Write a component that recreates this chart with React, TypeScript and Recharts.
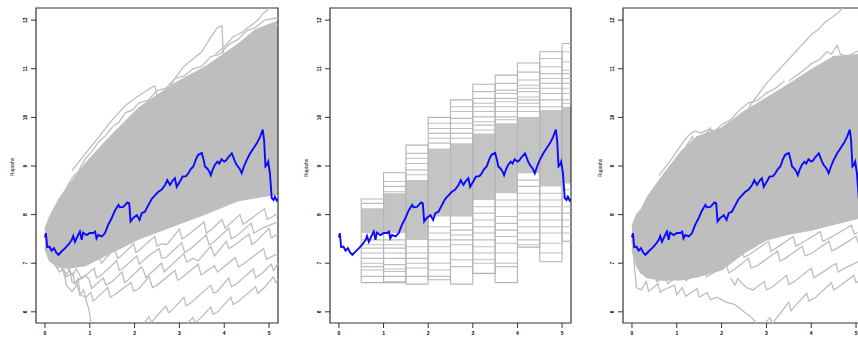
import React from 'react';
import { ComposedChart, Line, Area, XAxis, YAxis, ReferenceArea } from 'recharts';

// ---------- axes ----------
const xTicks = [0, 1, 2, 3, 4, 5];
const xTickLabels = ['0', '1', '2', '3', '4', '5'];
const yTicks = [6, 7, 8, 9, 10, 11, 12];
const yTickLabels = ['6', '7', '8', '9', '10', '11', '12'];
const xDomain: [number, number] = [-0.2, 5.2];
const yDomain: [number, number] = [5.77, 12.25];
const yAxisTitle = 'Rupiahs';

// ---------- observed series (blue) ----------
const obsTime = [0, 0.02, 0.05, 0.1, 0.15, 0.2, 0.25, 0.3, 0.37, 0.45, 0.52, 0.6, 0.63, 0.67, 0.74, 0.78, 0.82, 0.85, 0.93, 1.0, 1.08, 1.12, 1.15, 1.19, 1.27, 1.34, 1.41, 1.49, 1.56, 1.64, 1.67, 1.75, 1.84, 1.88, 1.91, 1.97, 2.05, 2.11, 2.16, 2.23, 2.31, 2.38, 2.46, 2.53, 2.6, 2.68, 2.73, 2.79, 2.85, 2.9, 2.94, 3.01, 3.07, 3.15, 3.2, 3.25, 3.31, 3.37, 3.42, 3.5, 3.55, 3.57, 3.62, 3.67, 3.7, 3.74, 3.79, 3.85, 3.89, 3.94, 4.0, 4.04, 4.09, 4.17, 4.2, 4.24, 4.28, 4.34, 4.39, 4.44, 4.5, 4.58, 4.65, 4.73, 4.8, 4.86, 4.89, 4.92, 4.95, 4.98, 5.02, 5.06, 5.1, 5.13, 5.17, 5.2];
const obsRate = [7.53, 7.62, 7.33, 7.34, 7.26, 7.31, 7.22, 7.17, 7.24, 7.31, 7.38, 7.48, 7.56, 7.44, 7.58, 7.65, 7.48, 7.63, 7.58, 7.62, 7.62, 7.65, 7.51, 7.58, 7.55, 7.62, 7.79, 7.93, 8.08, 8.2, 8.15, 8.16, 8.25, 8.23, 7.86, 7.93, 7.99, 7.89, 8.03, 8.06, 8.2, 8.32, 8.4, 8.47, 8.51, 8.61, 8.71, 8.61, 8.7, 8.75, 8.57, 8.68, 8.78, 8.79, 8.85, 8.93, 8.99, 9.14, 9.23, 9.27, 9.09, 8.99, 8.95, 8.88, 8.81, 8.92, 9.02, 9.09, 9.05, 9.14, 9.09, 9.11, 9.18, 9.26, 9.19, 9.09, 9.02, 8.95, 8.85, 8.99, 9.12, 9.26, 9.36, 9.47, 9.6, 9.75, 9.53, 8.99, 9.02, 9.09, 8.85, 8.34, 8.3, 8.37, 8.29, 8.32];

// ---------- panel 1: simulated paths ----------
const fan1BandX = [0, 0.1, 0.25, 0.5, 0.9, 1.4, 2.1, 2.9, 3.6, 4.3, 4.7, 5.2];
const fan1BandLow = [7.3, 7.05, 6.95, 6.9, 6.95, 7.18, 7.5, 7.78, 8.02, 8.28, 8.35, 8.42];
const fan1BandHigh = [7.7, 7.95, 8.2, 8.56, 9.05, 9.55, 10.2, 10.7, 11.05, 11.5, 11.8, 11.98];

const fan1PathA = [[0, 7.35], [0.12, 7.1], [0.25, 6.98], [0.32, 7.1], [0.38, 6.85], [0.5, 6.78], [0.55, 6.9], [0.6, 6.62], [0.7, 6.55], [0.74, 6.7], [0.78, 6.35], [0.86, 6.45], [0.93, 6.2], [0.98, 6.05], [1.04, 5.7]];
const fan1PathB = [[0, 7.3], [0.12, 7.08], [0.28, 6.9], [0.4, 6.95], [0.47, 6.72], [0.62, 6.8], [0.66, 6.6], [0.9, 6.75], [0.98, 6.68], [1.04, 6.48], [1.3, 6.7], [1.36, 6.55], [1.5, 6.62], [1.72, 6.82], [1.78, 6.6], [1.85, 6.65], [2.15, 6.92], [2.2, 6.85], [2.25, 6.7], [2.6, 7.0], [2.66, 6.82], [2.75, 6.9], [3.1, 7.2], [3.16, 7.02], [3.3, 7.1], [3.42, 7.05], [3.7, 7.35], [3.78, 7.15], [4.05, 7.45], [4.1, 7.3], [4.2, 7.35], [4.55, 7.6], [4.62, 7.38], [4.75, 7.48], [5.0, 7.72], [5.05, 7.52], [5.2, 7.6]];
const fan1PathC = [[0, 7.4], [0.18, 7.18], [0.3, 7.3], [0.36, 7.05], [0.52, 7.12], [0.58, 6.98], [0.88, 7.18], [0.93, 6.98], [1.0, 7.02], [1.2, 7.15], [1.26, 7.0], [1.55, 7.3], [1.62, 7.1], [1.7, 7.15], [1.98, 7.4], [2.03, 7.22], [2.12, 7.28], [2.45, 7.55], [2.5, 7.35], [2.62, 7.4], [2.72, 7.38], [3.0, 7.7], [3.06, 7.5], [3.15, 7.55], [3.55, 7.85], [3.6, 7.62], [3.7, 7.68], [3.95, 7.9], [4.02, 7.72], [4.35, 8.0], [4.42, 7.8], [4.5, 7.85], [4.9, 8.12], [4.96, 7.9], [5.2, 8.02]];
const fan1PathD = [[0.2, 7.0], [0.32, 6.82], [0.4, 6.88], [0.48, 6.55], [0.6, 6.42], [0.72, 6.55], [0.78, 6.35], [0.92, 6.3], [1.02, 6.4], [1.08, 6.22], [1.4, 6.5], [1.46, 6.3], [1.55, 6.35], [1.92, 6.6], [1.98, 6.42], [2.1, 6.48], [2.32, 6.72], [2.4, 6.5], [2.5, 6.55], [2.9, 6.85], [2.96, 6.65], [3.05, 6.7], [3.42, 6.98], [3.48, 6.76], [3.58, 6.82], [3.78, 6.95], [3.85, 6.82], [4.25, 7.12], [4.32, 6.92], [4.42, 6.98], [4.88, 7.3], [4.94, 7.08], [5.2, 7.2]];
const fan1PathE = [[2.15, 5.7], [2.32, 5.9], [2.38, 5.78], [2.5, 5.92], [2.7, 6.12], [2.76, 5.98], [2.82, 6.02], [3.1, 6.3], [3.15, 6.12], [3.28, 6.2], [3.7, 6.55], [3.76, 6.38], [3.85, 6.42], [4.1, 6.7], [4.16, 6.52], [4.28, 6.58], [4.65, 6.88], [4.7, 6.7], [4.85, 6.8], [5.05, 6.98], [5.1, 6.85], [5.2, 7.0]];
const fan1PathF = [[3.1, 5.7], [3.3, 5.88], [3.35, 5.78], [3.45, 5.85], [3.7, 6.1], [3.75, 5.95], [3.85, 6.0], [4.15, 6.3], [4.2, 6.15], [4.32, 6.22], [4.7, 6.52], [4.75, 6.38], [4.9, 6.5], [5.1, 6.72], [5.15, 6.6], [5.2, 6.68]];
const fan1PathG = [[0.6, 8.9], [0.9, 9.25], [1.2, 9.6], [1.5, 9.95], [1.8, 10.25], [2.1, 10.45], [2.35, 10.6], [2.45, 10.65], [2.5, 10.45], [2.7, 10.5], [2.9, 10.8], [3.1, 11.05], [3.3, 11.2], [3.5, 11.35], [3.7, 11.65], [3.85, 11.85], [3.95, 11.88], [3.98, 11.3], [4.2, 11.4], [4.5, 11.55], [4.8, 11.7], [5.2, 11.9]];
const fan1PathH = [[3.8, 11.3], [4.0, 11.45], [4.2, 11.66], [4.4, 11.75], [4.58, 11.88], [4.75, 12.0], [4.87, 12.14], [5.02, 12.25], [5.1, 12.4]];
const fan1PathI = [[0, 7.7], [0.15, 8.0], [0.3, 8.3], [0.45, 8.5], [0.6, 8.75], [0.75, 8.9], [0.9, 9.15], [1.05, 9.3], [1.2, 9.5], [1.35, 9.62], [1.5, 9.8], [1.65, 9.9], [1.8, 10.1], [1.95, 10.15], [2.1, 10.3], [2.3, 10.35], [2.5, 10.55], [2.7, 10.6], [2.9, 10.8], [3.1, 10.85], [3.3, 11.0], [3.5, 11.05], [3.7, 11.25], [3.9, 11.3], [4.1, 11.5], [4.3, 11.6], [4.5, 11.78], [4.7, 11.85], [4.9, 12.0], [5.2, 12.05]];
const fan1PathJ = [[0.5, 6.9], [0.62, 6.75], [0.7, 6.88], [0.82, 6.68], [1.1, 6.9], [1.15, 6.7], [1.25, 6.75], [1.6, 7.05], [1.66, 6.85], [1.75, 6.9], [2.05, 7.15], [2.1, 6.98], [2.35, 7.18], [2.55, 7.3], [2.6, 7.1], [2.7, 7.12], [3.05, 7.42], [3.12, 7.22], [3.25, 7.3], [3.6, 7.58], [3.66, 7.38], [3.75, 7.42], [4.1, 7.72], [4.16, 7.5], [4.3, 7.58], [4.6, 7.82], [4.66, 7.62], [4.85, 7.72], [5.2, 7.85]];
const fan1PathK = [[1.6, 9.55], [1.75, 9.8], [1.8, 9.6], [2.0, 9.9], [2.2, 10.15], [2.25, 9.95], [2.45, 10.2], [2.6, 10.4], [2.65, 10.2], [2.85, 10.45], [3.0, 10.6], [3.05, 10.4], [3.25, 10.65], [3.4, 10.85], [3.45, 10.65], [3.65, 10.9], [3.8, 11.05]];

// ---------- panel 2: interval boxes ----------
const colStart = [0.5, 1.0, 1.5, 2.0, 2.5, 3.0, 3.5, 4.0, 4.5, 5.0];
const colEnd = [1.0, 1.5, 2.0, 2.5, 3.0, 3.5, 4.0, 4.5, 5.0, 5.5];
const colTop = [8.32, 8.86, 9.43, 10.0, 10.36, 10.68, 10.87, 11.12, 11.35, 11.52];
const colBottom = [6.6, 6.6, 6.57, 6.66, 6.57, 6.79, 6.6, 7.33, 7.03, 7.45];
const colDenseHigh = [8.13, 8.44, 8.71, 9.36, 9.47, 9.67, 9.88, 10.01, 10.15, 10.22];
const colDenseLow = [7.62, 7.62, 7.48, 7.96, 7.96, 8.3, 8.44, 8.85, 8.58, 8.64];
const colLevels = [
  [8.23, 7.48, 7.38, 7.31, 7.21, 7.1, 7.0, 6.93, 6.86, 6.73],
  [8.68, 8.58, 8.47, 7.48, 7.38, 7.31, 7.21, 7.1, 6.97, 6.88, 6.83, 6.73, 6.62],
  [9.26, 9.16, 9.05, 8.92, 8.82, 7.34, 7.21, 7.1, 7.0, 6.9, 6.73],
  [9.88, 9.77, 9.67, 9.57, 9.47, 7.75, 7.62, 7.48, 7.34, 7.21, 7.0, 6.86, 6.73],
  [10.22, 10.12, 9.98, 9.88, 9.77, 9.67, 9.57, 7.82, 7.68, 7.58, 7.48, 7.38, 7.21, 7.07, 6.93],
  [10.53, 10.39, 10.29, 10.22, 10.12, 10.01, 9.91, 9.84, 9.74, 8.16, 8.03, 7.89, 7.75, 7.62, 7.48, 7.34, 7.21, 7.07, 7.0],
  [10.7, 10.56, 10.49, 10.39, 10.32, 10.22, 10.12, 10.01, 9.95, 8.3, 8.16, 7.96, 7.82, 7.68, 7.55, 7.41, 7.21, 7.0, 6.93],
  [10.93, 10.77, 10.66, 10.6, 10.53, 10.42, 10.36, 10.29, 10.22, 10.12, 8.71, 8.58, 8.44, 8.3, 8.16, 8.03, 7.89, 7.75, 7.62, 7.48, 7.38],
  [11.21, 11.04, 10.9, 10.8, 10.7, 10.6, 10.49, 10.36, 10.22, 8.44, 8.3, 8.16, 8.03, 7.89, 7.75, 7.62, 7.41, 7.21],
  [11.35, 11.14, 10.97, 10.9, 10.8, 10.7, 10.6, 10.49, 10.36, 10.29, 8.51, 8.37, 8.16, 8.03, 7.89, 7.75, 7.62],
];

// ---------- panel 3: simulated paths ----------
const fan3BandX = [0, 0.1, 0.2, 0.35, 0.7, 1.1, 1.45, 2.0, 2.5, 3.0, 3.5, 4.0, 4.5, 5.2];
const fan3BandLow = [7.3, 6.95, 6.8, 6.7, 6.65, 6.66, 6.72, 6.86, 7.21, 7.48, 7.6, 7.68, 7.8, 7.96];
const fan3BandHigh = [7.75, 8.0, 8.1, 8.37, 8.82, 9.3, 9.6, 9.78, 10.12, 10.4, 10.68, 10.98, 11.25, 11.3];

const fan3PathA = [[2.6, 10.2], [2.8, 10.45], [3.0, 10.7], [3.2, 10.9], [3.35, 11.05], [3.5, 11.2], [3.7, 11.4], [3.85, 11.55], [4.0, 11.7], [4.15, 11.8], [4.3, 11.95], [4.45, 12.05], [4.6, 12.15], [4.75, 12.3]];
const fan3PathB = [[3.5, 10.75], [3.8, 10.95], [4.0, 11.1], [4.2, 11.2], [4.35, 11.35], [4.45, 11.3], [4.58, 11.48], [4.65, 11.3], [4.8, 11.25], [5.0, 11.35], [5.2, 11.4]];
const fan3PathC = [[0.6, 8.8], [0.85, 9.1], [1.0, 9.3], [1.15, 9.5], [1.25, 9.62], [1.4, 9.72], [1.55, 9.68], [1.7, 9.75], [1.85, 9.72], [2.0, 9.85], [2.2, 9.95], [2.4, 10.15], [2.6, 10.3], [2.8, 10.35], [3.0, 10.5], [3.2, 10.6], [3.4, 10.75]];
const fan3PathD = [[0, 7.5], [0.05, 7.0], [0.1, 6.5], [0.2, 6.45], [0.32, 6.62], [0.37, 6.42], [0.58, 6.58], [0.63, 6.4], [0.7, 6.45], [0.95, 6.55], [1.0, 6.35], [1.12, 6.5], [1.2, 6.32], [1.45, 6.48], [1.5, 6.3], [1.68, 6.4], [1.75, 6.25], [1.9, 6.3], [2.1, 6.2], [2.3, 6.15], [2.5, 6.0], [2.65, 5.9], [2.8, 5.75], [2.9, 5.6]];
const fan3PathE = [[2.9, 5.7], [3.08, 5.88], [3.13, 5.76], [3.25, 5.9], [3.5, 6.2], [3.55, 6.02], [3.62, 6.1], [3.9, 6.38], [3.95, 6.22], [4.1, 6.3], [4.45, 6.6], [4.5, 6.45], [4.62, 6.52], [4.95, 6.75], [5.0, 6.6], [5.2, 6.72]];
const fan3PathF = [[0.3, 6.7], [0.5, 6.82], [0.55, 6.62], [0.72, 6.7], [0.8, 6.58], [1.15, 6.82], [1.2, 6.64], [1.3, 6.7], [1.6, 6.92], [1.66, 6.72], [1.78, 6.78], [2.1, 7.0], [2.16, 6.8], [2.3, 6.88], [2.6, 7.1], [2.66, 6.9], [2.8, 6.95], [3.25, 7.25], [3.3, 7.05], [3.42, 7.1], [3.8, 7.35], [3.86, 7.15], [4.0, 7.2], [4.4, 7.45], [4.46, 7.25], [4.6, 7.32], [5.0, 7.55], [5.06, 7.38], [5.2, 7.48]];
const fan3PathG = [[1.0, 6.9], [1.3, 7.05], [1.35, 6.88], [1.5, 6.95], [1.9, 7.22], [1.96, 7.02], [2.1, 7.08], [2.45, 7.32], [2.5, 7.12], [2.62, 7.18], [3.05, 7.45], [3.1, 7.25], [3.2, 7.3], [3.6, 7.55], [3.66, 7.35], [3.8, 7.42], [4.2, 7.65], [4.26, 7.45], [4.42, 7.52], [4.9, 7.78], [4.96, 7.6], [5.2, 7.7]];
const fan3PathH = [[2.2, 6.7], [2.3, 6.55], [2.36, 6.68], [2.55, 6.5], [2.7, 6.45], [2.95, 6.62], [3.0, 6.45], [3.12, 6.5], [3.45, 6.75], [3.5, 6.56], [3.62, 6.62], [4.0, 6.9], [4.06, 6.7], [4.2, 6.78], [4.55, 7.0], [4.6, 6.82], [4.75, 6.9], [5.2, 7.1]];
const fan3PathI = [[1.2, 9.4], [1.35, 9.6], [1.4, 9.45], [1.6, 9.6], [1.75, 9.78], [1.8, 9.6], [2.0, 9.72], [2.2, 9.9], [2.25, 9.72], [2.45, 9.9], [2.6, 10.1], [2.65, 9.92], [2.85, 10.1], [3.0, 10.3]];

// ---------- helpers ----------
const GRAY = '#bebebe';
const BLUE = '#0a0aff';
const FONT = 'Liberation Sans, Arial, Helvetica, sans-serif';

const rows = (pts: number[][]) => pts.map(([x, y]) => ({ x, y }));
const observed = obsTime.map((x, i) => ({ x, y: obsRate[i] }));
const band = (xs: number[], lo: number[], hi: number[]) => xs.map((x, i) => ({ x, range: [lo[i], hi[i]] }));
const fan1Band = band(fan1BandX, fan1BandLow, fan1BandHigh);
const fan3Band = band(fan3BandX, fan3BandLow, fan3BandHigh);
const fan1Paths = [fan1PathA, fan1PathB, fan1PathC, fan1PathD, fan1PathE, fan1PathF, fan1PathG, fan1PathH, fan1PathI, fan1PathJ, fan1PathK];
const fan3Paths = [fan3PathA, fan3PathB, fan3PathC, fan3PathD, fan3PathE, fan3PathF, fan3PathG, fan3PathH, fan3PathI];

const XTick = (props: any) => {
  const { x, y, payload } = props;
  const i = xTicks.indexOf(payload.value);
  return (
    <text x={x} y={y + 5} textAnchor="middle" fontSize={5} fontWeight={700} fill="#000" fontFamily={FONT}>
      {xTickLabels[i]}
    </text>
  );
};

const YTick = (props: any) => {
  const { x, y, payload } = props;
  const i = yTicks.indexOf(payload.value);
  return (
    <text x={x} y={y} transform={`rotate(-90 ${x} ${y})`} textAnchor="middle" fontSize={5} fontWeight={700} fill="#000" fontFamily={FONT}>
      {yTickLabels[i]}
    </text>
  );
};

const axes = () => [
  <XAxis
    key="x"
    xAxisId={0}
    type="number"
    dataKey="x"
    domain={xDomain}
    allowDataOverflow
    ticks={xTicks}
    interval={0}
    height={17}
    tickSize={5}
    tickMargin={2}
    axisLine={false}
    tickLine={{ stroke: '#333', strokeWidth: 1 }}
    tick={<XTick />}
  />,
  <YAxis
    key="y"
    yAxisId={0}
    type="number"
    domain={yDomain}
    allowDataOverflow
    ticks={yTicks}
    interval={0}
    width={28}
    tickSize={5}
    tickMargin={4}
    axisLine={false}
    tickLine={{ stroke: '#333', strokeWidth: 1 }}
    tick={<YTick />}
  />,
];

const frame = () => (
  <ReferenceArea
    key="frame"
    x1={xDomain[0]}
    x2={xDomain[1]}
    y1={yDomain[0]}
    y2={yDomain[1]}
    fill="none"
    stroke="#333"
    strokeWidth={1.2}
    ifOverflow="visible"
  />
);

const blueLine = () => (
  <Line key="obs" data={observed} dataKey="y" type="linear" stroke={BLUE} strokeWidth={1.9} dot={false} isAnimationActive={false} />
);

const pathLines = (paths: number[][][], prefix: string) =>
  paths.map((p, i) => (
    <Line key={prefix + i} data={rows(p)} dataKey="y" type="linear" stroke={GRAY} strokeWidth={1.3} dot={false} isAnimationActive={false} />
  ));

const columnElements = () => {
  const out: any[] = [];
  colStart.forEach((x0, i) => {
    const x1 = colEnd[i];
    out.push(
      <ReferenceArea key={'d' + i} x1={x0} x2={x1} y1={colDenseLow[i]} y2={colDenseHigh[i]} fill="#c4c4c4" fillOpacity={1} stroke="none" ifOverflow="hidden" />
    );
    const segs: any[] = [];
    colLevels[i].forEach((v) => {
      segs.push({ x: x0, y: v }, { x: x1, y: v }, { x: x1, y: null });
    });
    out.push(
      <Line key={'l' + i} data={segs} dataKey="y" type="linear" stroke={GRAY} strokeWidth={1.1} dot={false} connectNulls={false} isAnimationActive={false} />
    );
    const box = [
      { x: x0, y: colBottom[i] },
      { x: x0, y: colTop[i] },
      { x: x1, y: colTop[i] },
      { x: x1, y: colBottom[i] },
      { x: x0, y: colBottom[i] },
    ];
    out.push(
      <Line key={'b' + i} data={box} dataKey="y" type="linear" stroke="#b4b4b4" strokeWidth={1.1} dot={false} isAnimationActive={false} />
    );
  });
  return out;
};

const AxisTitle = ({ left, top }: { left: number; top: number }) => (
  <div
    style={{
      position: 'absolute',
      left,
      top,
      transform: 'translate(-50%, -50%) rotate(-90deg)',
      fontSize: 5,
      fontFamily: FONT,
      color: '#222',
      whiteSpace: 'nowrap',
      lineHeight: '5px',
    }}
  >
    {yAxisTitle}
  </div>
);

export default function App() {
  return (
    <div style={{ position: 'fixed', left: 0, top: 0, width: 858, height: 340, overflow: 'hidden', background: '#fff' }}>
      <div style={{ position: 'absolute', left: 0, top: 0 }}>
        <ComposedChart width={290} height={340} margin={{ top: 8, right: 12, bottom: 0, left: 8 }}>
          {axes()}
          <Area data={fan1Band} dataKey="range" type="linear" stroke={GRAY} strokeWidth={1.3} fill={GRAY} fillOpacity={1} isAnimationActive={false} />
          {pathLines(fan1Paths, 'p1')}
          {blueLine()}
          {frame()}
        </ComposedChart>
      </div>
      <div style={{ position: 'absolute', left: 290, top: 0 }}>
        <ComposedChart width={290} height={340} margin={{ top: 8, right: 9, bottom: 0, left: 12 }}>
          {axes()}
          {columnElements()}
          {blueLine()}
          {frame()}
        </ComposedChart>
      </div>
      <div style={{ position: 'absolute', left: 580, top: 0 }}>
        <ComposedChart width={300} height={340} margin={{ top: 8, right: 15, bottom: 0, left: 15 }}>
          {axes()}
          <Area data={fan3Band} dataKey="range" type="linear" stroke={GRAY} strokeWidth={1.3} fill={GRAY} fillOpacity={1} isAnimationActive={false} />
          {pathLines(fan3Paths, 'p3')}
          {blueLine()}
          {frame()}
        </ComposedChart>
      </div>
      <AxisTitle left={12} top={167} />
      <AxisTitle left={306} top={168} />
      <AxisTitle left={600} top={168} />
    </div>
  );
}
